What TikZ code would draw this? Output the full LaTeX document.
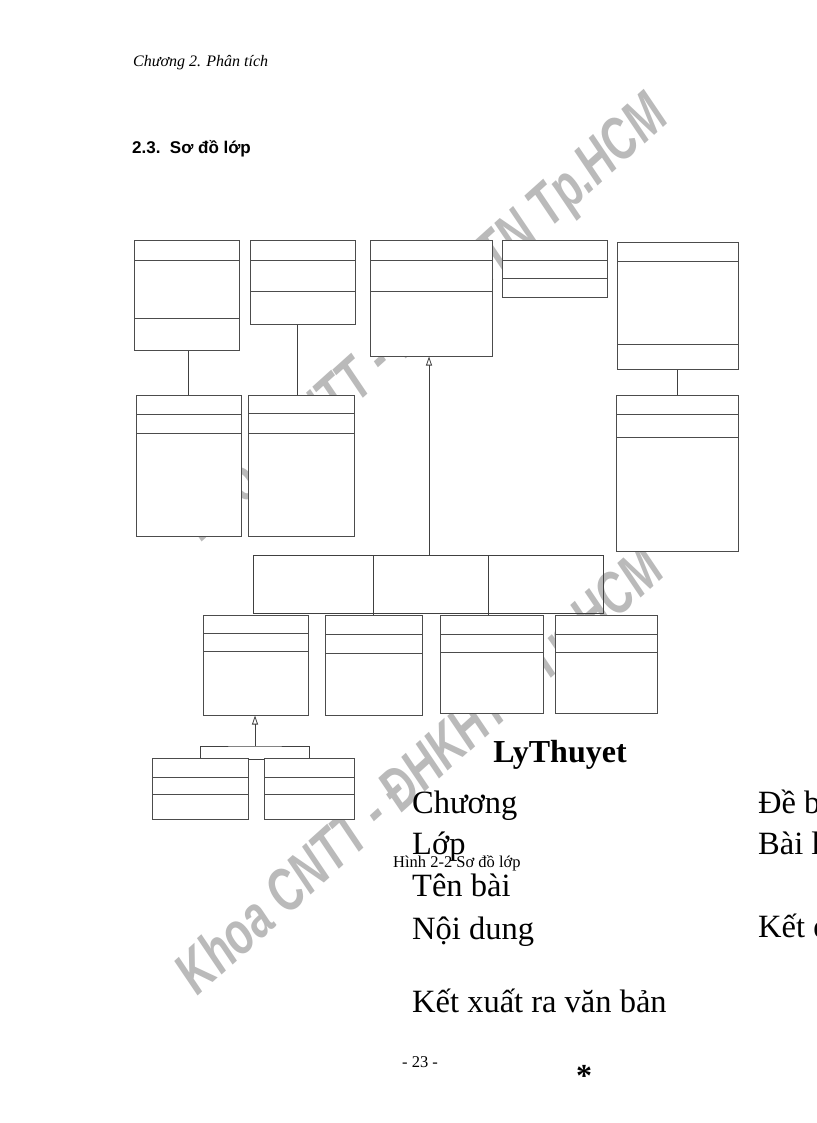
\documentclass[tikz,border=0pt]{standalone}
\usepackage{fontspec}
\setmainfont{Liberation Serif}
\newfontfamily\arialfont{Liberation Sans}
\usetikzlibrary{arrows.meta,fit}

\begin{document}
\begin{tikzpicture}[x=1pt,y=-1pt,
  umlclass/.style={draw=black!70,line width=1pt,fill=white,inner sep=0pt},
  divider/.style={draw=black!70,line width=1pt},
  assoc/.style={draw=black!75,line width=0.8pt},
  inherit/.style={assoc,-{Triangle[open,length=9pt,width=6pt]}},
  watermark/.style={text=black!27,inner sep=0pt,rotate=42,
    font=\arialfont\bfseries\itshape\fontsize{60}{60}\selectfont},
  body/.style={inner sep=0pt,anchor=base west,font=\fontsize{32.5}{36}\selectfont}]

\useasboundingbox (0,0) rectangle (816,1123);
\fill[white] (0,0) rectangle (816,1123);
\clip (0,0) rectangle (816,1123);

\node[watermark] (wmUpper) at (426,320) {\scalebox{0.72}[1]{Khoa CNTT - ĐHKHTN Tp.HCM}};
\node[watermark] (wmLower) at (422,774) {\scalebox{0.72}[1]{Khoa CNTT - ĐHKHTN Tp.HCM}};

\foreach \name/\xa/\ya/\xb/\yb/\da/\db in {
  top1/134/240/239/350/260/318, top2/250/240/355/324/260/291,
  top3/370/240/492/356/260/291, top4/502/240/607/297/260/278,
  top5/617/242/738/369/261/344,
  mid1/136/395/241/536/414/433, mid2/248/395/354/536/413/433,
  mid3/616/395/738/551/414/437,
  sub1/203/615/308/715/633/651, sub2/325/615/422/715/634/653,
  sub3/440/615/543/713/634/652, sub4/555/615/657/713/634/652,
  leaf1/152/758/248/819/777/794, leaf2/264/758/354/819/777/794}
{
  \node[umlclass,fit={(\xa,\ya) (\xb,\yb)}] (\name) {};
  \draw[divider] (\xa,\da) -- (\xb,\da);
  \draw[divider] (\xa,\db) -- (\xb,\db);
}

\draw[assoc] (mid1.north) -- (mid1.north |- top1.south);
\draw[assoc] ([xshift=-4pt]mid2.north) -- ([xshift=-4pt]mid2.north |- top2.south);
\draw[assoc] (mid3.north) -- (mid3.north |- top5.south);

\coordinate (hub) at (429,555);
\coordinate (treeStart) at (253,555);
\coordinate (treeEnd) at (603,613);
\draw[inherit] (hub) -- (hub |- top3.south);
\draw[assoc] (treeStart) rectangle (treeEnd);
\draw[assoc] (sub2.north |- hub) -- (sub2.north);
\draw[assoc] ([xshift=-3.5pt]sub3.north |- hub) -- ([xshift=-3.5pt]sub3.north);

\coordinate (fork) at (255,746);
\draw[inherit] (fork) -- (fork |- sub1.south);
\draw[assoc] (leaf1.north) |- (fork) -| (leaf2.north);
\draw[assoc] ([yshift=-2pt]leaf1.north east) -- ([yshift=-2pt]leaf2.north west);

\node[anchor=base west,inner sep=0pt,font=\itshape\fontsize{16}{19}\selectfont] (header) at (133,67) {Chương 2. Phân tích};
\node[anchor=base west,inner sep=0pt,font=\arialfont\bfseries\fontsize{17}{20}\selectfont] (section) at (132,154) {2.3.\ \ Sơ đồ lớp};

\node[anchor=base,inner sep=0pt,font=\bfseries\fontsize{32}{36}\selectfont] (title) at (560,762) {LyThuyet};
\node[body] (attr1) at (412,813) {Chương};
\node[body] (attr2) at (412,854) {Lớp};
\node[body] (attr3) at (412,896) {Tên bài};
\node[body] (attr4) at (412,939) {Nội dung};
\node[body] (method) at (412,1012) {Kết xuất ra văn bản};
\node[body] (extra1) at (758,813) {Đề bài};
\node[body] (extra2) at (758,854) {Bài làm};
\node[body] (extra3) at (758,937) {Kết quả};

\node[anchor=base west,inner sep=0pt,font=\fontsize{16.5}{19}\selectfont] (caption) at (393,867) {Hình 2-2 Sơ đồ lớp};
\node[anchor=base,inner sep=0pt,font=\fontsize{16.5}{19}\selectfont] (pageno) at (420,1067) {- 23 -};
\node[anchor=base,inner sep=0pt,font=\bfseries\fontsize{32}{36}\selectfont] (mark) at (584,1086) {*};

\end{tikzpicture}
\end{document}
